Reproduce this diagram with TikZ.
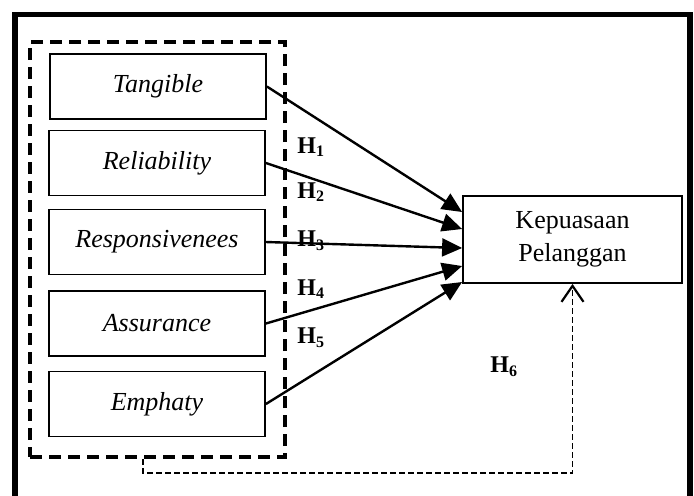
\documentclass[tikz,border=0pt]{standalone}
\usepackage{fontspec}
\setmainfont{Liberation Serif}
\usetikzlibrary{arrows.meta,calc}
\begin{document}
\begin{tikzpicture}[x=0.5pt,y=-0.5pt,
  varbox/.style={draw,line width=0.9pt,minimum width=108pt,minimum height=32.5pt,inner sep=0pt,font=\fontsize{13}{15}\selectfont\itshape},
  depbox/.style={draw,line width=0.9pt,minimum width=109.5pt,minimum height=43.5pt,inner sep=0pt,align=center,font=\fontsize{13}{16.5}\selectfont},
  grpbox/.style={draw,line width=2pt,dash pattern=on 6pt off 3.5pt,minimum width=127.5pt,minimum height=207.5pt,inner sep=0pt},
  hlab/.style={anchor=west,inner sep=0pt,font=\fontsize{12}{13}\selectfont\bfseries},
  link/.style={line width=1.2pt,-{Triangle[length=10pt,width=9pt]}},
  dlink/.style={line width=0.9pt,dash pattern=on 3pt off 1.5pt,-{Straight Barb[length=8pt,width=11pt,line width=1.1pt]}}]
\useasboundingbox (0,0) rectangle (694,495);
\draw[line width=2.6pt] (15,14.5) rectangle (690,540);
\node[grpbox] (grp) at (157.5,249.5) {};
\node[varbox] (t) at (158,86.5) {Tangible};
\node[varbox] (r) at (157,163) {Reliability};
\node[varbox] (s) at (157,242) {Responsivenees};
\node[varbox] (a) at (157,323.5) {Assurance};
\node[varbox] (e) at (157,404) {Emphaty};
\node[depbox] (k) at (572.5,239.5) {Kepuasaan\\Pelanggan};
\draw[link] (t.east) -- ($(k.west)+(0,-27.5)$);
\draw[link] (r.east) -- ($(k.west)+(0,-10.5)$);
\draw[link] (s.east) -- ($(k.west)+(0,8.5)$);
\draw[link] (a.east) -- ($(k.west)+(0,26.5)$);
\draw[link] (e.east) -- ($(k.west)+(0,42.5)$);
\node[hlab] (h1) at (297,147) {H\textsubscript{1}};
\node[hlab] (h2) at (297,192) {H\textsubscript{2}};
\node[hlab] (h3) at (297,241) {H\textsubscript{3}};
\node[hlab] (h4) at (297,289) {H\textsubscript{4}};
\node[hlab] (h5) at (297,338) {H\textsubscript{5}};
\node[hlab] (h6) at (490,367) {H\textsubscript{6}};
\coordinate (d1) at (143,473);
\draw[dlink] (grp.south -| d1) -- (d1) -| (k.south);
\end{tikzpicture}
\end{document}
